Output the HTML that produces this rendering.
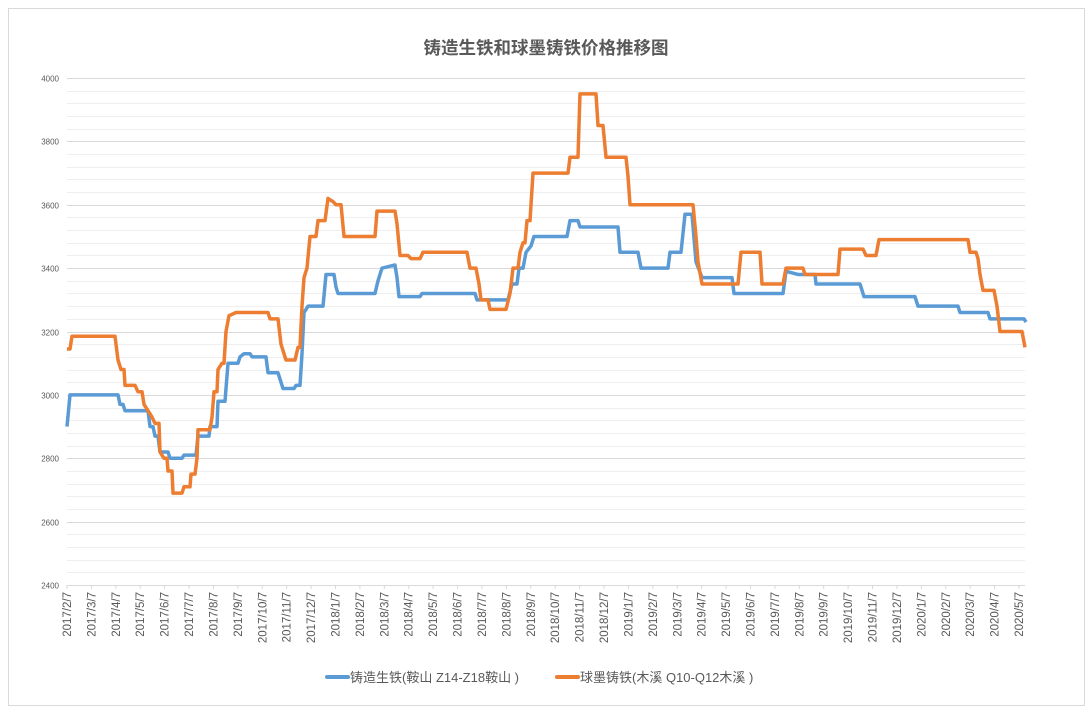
<!DOCTYPE html>
<html><head><meta charset="utf-8"><style>
html,body{margin:0;padding:0;background:#fff;}
svg{display:block;font-family:"Liberation Sans","Noto Sans CJK SC",sans-serif;}
</style></head><body>
<svg width="1092" height="714" viewBox="0 0 1092 714" xmlns="http://www.w3.org/2000/svg">
<rect x="8.5" y="8.5" width="1076" height="697" fill="#fff" stroke="#d9d9d9"/>
<text x="546" y="54" text-anchor="middle" font-size="17.5" font-weight="bold" fill="#595959" font-family="'Noto Sans CJK SC',sans-serif">铸造生铁和球墨铸铁价格推移图</text>
<g id="grid" stroke-width="1"></g>
<g id="ylab" font-size="8" fill="#595959" text-anchor="end"></g>
<g id="xlab" font-size="11.5" fill="#595959"></g>
<g transform="translate(0,1345.6) scale(1,-0.3169)" fill="none" stroke-linejoin="round">
<polyline vector-effect="non-scaling-stroke" stroke="#5b9bd5" stroke-width="3.5" points="67,2900 70,3000 118,3000 120,2970 123,2970 125,2950 148,2950 150,2900 153,2900 155,2870 158,2870 160,2820 168,2820 170,2800 182,2800 184,2810 196,2810 198,2870 209,2870 210,2900 217,2900 218,2980 225,2980 228,3100 238,3100 240,3120 244,3130 250,3130 252,3120 266,3120 268,3070 278,3070 280,3050 283,3020 294,3020 296,3030 300,3030 302,3130 304,3260 308,3280 323,3280 326,3380 334,3380 336,3340 338,3320 375,3320 378,3360 382,3400 395,3410 397,3370 399,3310 420,3310 422,3320 475,3320 477,3300 508,3300 512,3350 517,3350 519,3400 523,3400 526,3450 531,3470 534,3500 567,3500 570,3550 578,3550 580,3530 618,3530 620,3450 638,3450 641,3400 668,3400 670,3450 681,3450 685,3570 692,3570 696,3420 702,3370 732,3370 734,3320 783,3320 786,3390 798,3380 815,3380 816,3350 860,3350 864,3310 915,3310 918,3280 958,3280 960,3260 988,3260 990,3240 1024,3240 1026,3230"/>
<polyline vector-effect="non-scaling-stroke" stroke="#ed7d31" stroke-width="3.5" points="67,3145 70,3145 72,3185 115,3185 118,3110 121,3080 124,3080 125,3030 135,3030 138,3010 142,3010 144,2970 148,2950 152,2930 155,2910 159,2910 160,2820 164,2800 167,2800 168,2760 172,2760 173,2690 182,2690 184,2710 190,2710 191,2750 195,2750 197,2800 198,2890 210,2890 212,2930 214,3010 217,3010 218,3080 222,3100 224,3100 226,3200 229,3250 236,3260 268,3260 270,3240 278,3240 281,3160 286,3110 295,3110 298,3150 300,3150 302,3280 304,3370 307,3400 310,3500 316,3500 318,3550 325,3550 328,3620 333,3610 336,3600 341,3600 344,3500 375,3500 377,3580 395,3580 397,3540 400,3440 408,3440 411,3430 420,3430 423,3450 467,3450 470,3400 476,3400 479,3350 481,3300 488,3300 490,3270 506,3270 510,3320 513,3400 518,3400 520,3450 523,3480 525,3480 527,3550 530,3550 533,3700 568,3700 570,3750 578,3750 580,3950 596,3950 598,3850 603,3850 606,3750 626,3750 628,3690 630,3600 693,3600 696,3500 698,3420 702,3350 738,3350 741,3450 760,3450 762,3350 783,3350 786,3400 803,3400 805,3380 838,3380 840,3460 863,3460 866,3440 876,3440 879,3490 968,3490 970,3450 976,3450 978,3430 980,3380 983,3330 994,3330 997,3280 1000,3200 1022,3200 1025,3150"/>
</g>
<line x1="327" y1="677" x2="348" y2="677" stroke="#5b9bd5" stroke-width="4" stroke-linecap="round"/>
<text x="350" y="682" font-size="13" fill="#595959">铸造生铁(鞍山 Z14-Z18鞍山 )</text>
<line x1="557" y1="677" x2="578" y2="677" stroke="#ed7d31" stroke-width="4" stroke-linecap="round"/>
<text x="580" y="682" font-size="13" fill="#595959">球墨铸铁(木溪 Q10-Q12木溪 )</text>
<script>
var g=document.getElementById('grid'),yl=document.getElementById('ylab'),xl=document.getElementById('xlab'),ns='http://www.w3.org/2000/svg';
function Y(v){return 78+(4000-v)*507/1600;}
for(var v=2400;v<=4000;v+=40){var y=Math.round(Y(v))+0.5;var l=document.createElementNS(ns,'line');l.setAttribute('x1',67);l.setAttribute('x2',1025);l.setAttribute('y1',y);l.setAttribute('y2',y);var maj=(v%200==0);l.setAttribute('stroke',maj?'#d9d9d9':'#eeeeee');g.appendChild(l);if(maj){var t=document.createElementNS(ns,'text');t.setAttribute('x',59);t.setAttribute('y',y+3);t.textContent=v;yl.appendChild(t);}}
var m=2,yr=2017;
for(var i=0;i<40;i++){var x=67+i*24.41;var tk=document.createElementNS(ns,'line');tk.setAttribute('x1',x);tk.setAttribute('x2',x);tk.setAttribute('y1',585);tk.setAttribute('y2',589);tk.setAttribute('stroke','#d9d9d9');g.appendChild(tk);
var t=document.createElementNS(ns,'text');t.setAttribute('transform','translate('+(x+4)+',592) rotate(-90)');t.setAttribute('text-anchor','end');t.textContent=yr+'/'+m+'/7';xl.appendChild(t);m++;if(m>12){m=1;yr++;}}
</script>
</svg>
</body></html>
